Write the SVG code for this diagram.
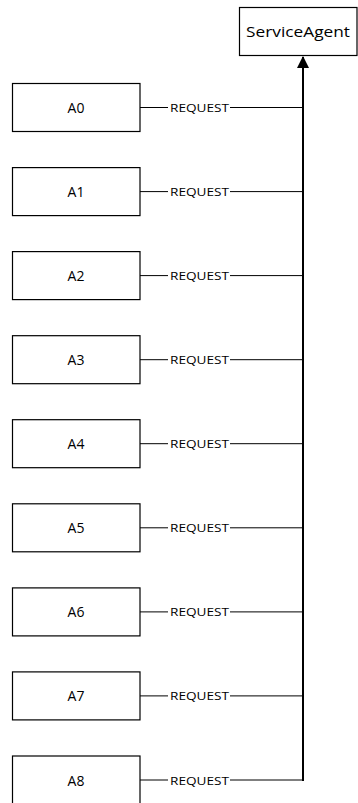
<svg xmlns="http://www.w3.org/2000/svg" width="358" height="803" viewBox="0 0 358 803">
<style>
.box{fill:#fff;stroke:#000;stroke-width:1.2}
.lbl{font-family:"Open Sans","Liberation Sans",sans-serif;font-size:14px;fill:#000;text-anchor:middle;dominant-baseline:central}
.req{font-family:"Open Sans","Liberation Sans",sans-serif;font-size:11px;fill:#000;dominant-baseline:central}
.h{stroke:#000;stroke-width:1;fill:none}
.v{stroke:#000;stroke-width:2;fill:none}
</style>
<defs>
<marker id="arr" markerWidth="6" markerHeight="6" refX="5.5" refY="3" orient="auto" markerUnits="strokeWidth">
<path d="M0,0 L6,3 L0,6 Z" fill="#000"/>
</marker>
</defs>
<g id="connectors">
<path class="v" d="M303,781 L303,57" marker-end="url(#arr)"/>
<g id="c0"><path class="h" d="M140,107.5 H168 M230,107.5 H303"/><text class="req" x="170" y="107.5" textLength="59" lengthAdjust="spacingAndGlyphs">REQUEST</text></g>
<g id="c1"><path class="h" d="M140,191.6 H168 M230,191.6 H303"/><text class="req" x="170" y="191.6" textLength="59" lengthAdjust="spacingAndGlyphs">REQUEST</text></g>
<g id="c2"><path class="h" d="M140,275.6 H168 M230,275.6 H303"/><text class="req" x="170" y="275.6" textLength="59" lengthAdjust="spacingAndGlyphs">REQUEST</text></g>
<g id="c3"><path class="h" d="M140,359.7 H168 M230,359.7 H303"/><text class="req" x="170" y="359.7" textLength="59" lengthAdjust="spacingAndGlyphs">REQUEST</text></g>
<g id="c4"><path class="h" d="M140,443.7 H168 M230,443.7 H303"/><text class="req" x="170" y="443.7" textLength="59" lengthAdjust="spacingAndGlyphs">REQUEST</text></g>
<g id="c5"><path class="h" d="M140,527.8 H168 M230,527.8 H303"/><text class="req" x="170" y="527.8" textLength="59" lengthAdjust="spacingAndGlyphs">REQUEST</text></g>
<g id="c6"><path class="h" d="M140,611.9 H168 M230,611.9 H303"/><text class="req" x="170" y="611.9" textLength="59" lengthAdjust="spacingAndGlyphs">REQUEST</text></g>
<g id="c7"><path class="h" d="M140,695.9 H168 M230,695.9 H303"/><text class="req" x="170" y="695.9" textLength="59" lengthAdjust="spacingAndGlyphs">REQUEST</text></g>
<g id="c8"><path class="h" d="M140,780 H168 M230,780 H303"/><text class="req" x="170" y="780" textLength="59" lengthAdjust="spacingAndGlyphs">REQUEST</text></g>
</g>
<g id="ServiceAgent"><rect class="box" x="239.5" y="7.5" width="117.5" height="48"/><text class="lbl" x="298" y="31.5" textLength="104" lengthAdjust="spacingAndGlyphs">ServiceAgent</text></g>
<g id="A0"><rect class="box" x="12.5" y="83.5" width="127.5" height="48"/><text class="lbl" x="76" y="107.5">A0</text></g>
<g id="A1"><rect class="box" x="12.5" y="167.6" width="127.5" height="48"/><text class="lbl" x="76" y="191.6">A1</text></g>
<g id="A2"><rect class="box" x="12.5" y="251.6" width="127.5" height="48"/><text class="lbl" x="76" y="275.6">A2</text></g>
<g id="A3"><rect class="box" x="12.5" y="335.7" width="127.5" height="48"/><text class="lbl" x="76" y="359.7">A3</text></g>
<g id="A4"><rect class="box" x="12.5" y="419.7" width="127.5" height="48"/><text class="lbl" x="76" y="443.7">A4</text></g>
<g id="A5"><rect class="box" x="12.5" y="503.8" width="127.5" height="48"/><text class="lbl" x="76" y="527.8">A5</text></g>
<g id="A6"><rect class="box" x="12.5" y="587.9" width="127.5" height="48"/><text class="lbl" x="76" y="611.9">A6</text></g>
<g id="A7"><rect class="box" x="12.5" y="671.9" width="127.5" height="48"/><text class="lbl" x="76" y="695.9">A7</text></g>
<g id="A8"><rect class="box" x="12.5" y="756" width="127.5" height="48"/><text class="lbl" x="76" y="780">A8</text></g>
</svg>
